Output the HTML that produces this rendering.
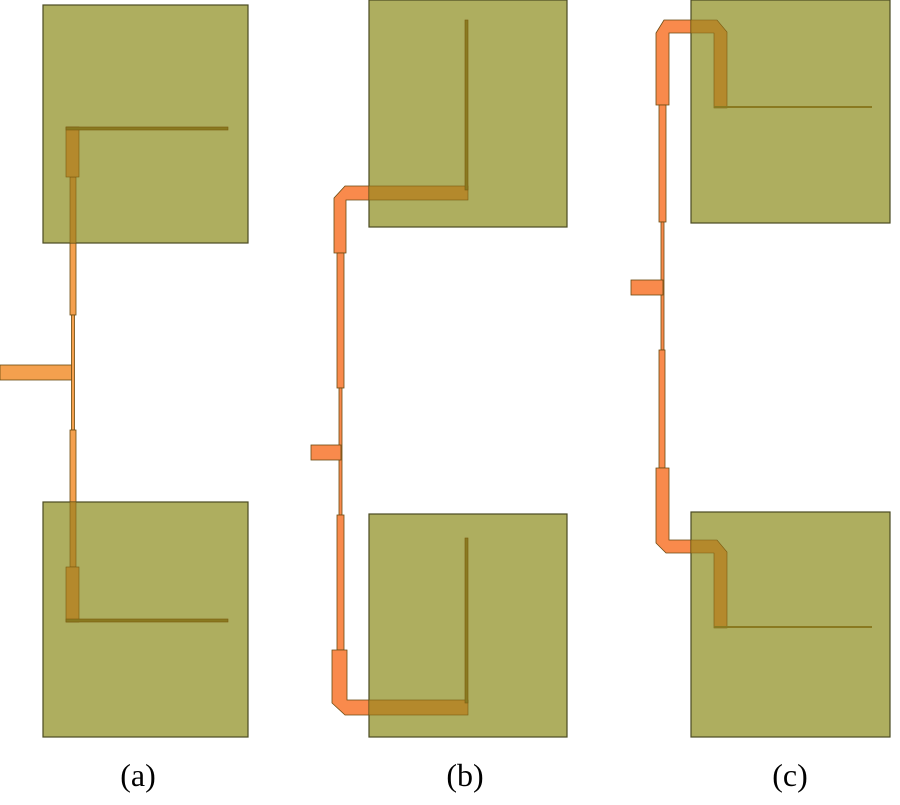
<!DOCTYPE html>
<html><head><meta charset="utf-8"><style>html,body{margin:0;padding:0;background:#fff}</style></head>
<body>
<svg width="900" height="800" viewBox="0 0 900 800" xmlns="http://www.w3.org/2000/svg">
<g stroke="#6a4a10" stroke-width="0.8">
<!-- (a) orange traces -->
<g fill="#f4a04e">
<rect x="0" y="365" width="72" height="15"/>
<rect x="70" y="240" width="6" height="75"/>
<rect x="71.5" y="315" width="3" height="115"/>
<rect x="70" y="430" width="6" height="75"/>
</g>
<!-- (b) -->
<g fill="#f98a4c">
<path d="M334,253 L334,198 L345,186 L372,186 L372,200 L346,200 L346,253 Z"/>
<rect x="337" y="253" width="7" height="135"/>
<rect x="339" y="388" width="3" height="127"/>
<rect x="311" y="445" width="30" height="15"/>
<rect x="337" y="515" width="7" height="135"/>
<path d="M332,650 L347,650 L347,700 L372,700 L372,715 L345,715 L332,703 Z"/>
</g>
<!-- (c) -->
<g fill="#f98a4c">
<path d="M656,105 L656,33 L664,20 L694,20 L694,33 L669,33 L669,105 Z"/>
<rect x="659" y="105" width="7" height="117"/>
<rect x="661" y="222" width="3" height="128"/>
<rect x="631" y="280" width="32" height="15"/>
<rect x="659" y="350" width="6" height="118"/>
<path d="M656,468 L669,468 L669,540 L694,540 L694,553 L666,553 L656,543 Z"/>
</g>
</g>
<!-- boxes -->
<g fill="#aeae5f" stroke="#4a4a22" stroke-width="1.2">
<rect x="43" y="5" width="205" height="238"/>
<rect x="43" y="502" width="205" height="235"/>
<rect x="369" y="0" width="198" height="227"/>
<rect x="369" y="514" width="198" height="223"/>
<rect x="691" y="0" width="199" height="223"/>
<rect x="691" y="512" width="199" height="225"/>
</g>
<!-- overlaps -->
<g fill="#b4892c" stroke="#7a5a10" stroke-width="0.6">
<rect x="70" y="177" width="6" height="66"/>
<rect x="66" y="127" width="13" height="50"/>
<rect x="66" y="127" width="162" height="3" fill="#8a7a20"/>
<rect x="70" y="502" width="6" height="65"/>
<rect x="66" y="567" width="13" height="55"/>
<rect x="66" y="619" width="162" height="3" fill="#8a7a20"/>
<rect x="369" y="186" width="99" height="14"/>
<rect x="465" y="20" width="3" height="170" fill="#8a7a20"/>
<rect x="369" y="700" width="99" height="15"/>
<rect x="465" y="538" width="3" height="165" fill="#8a7a20"/>
<path d="M691,20 L717,20 L727,32 L727,108 L714,108 L714,33 L691,33 Z"/>
<rect x="714" y="106" width="158" height="2" fill="#8a7a20" stroke="none"/>
<path d="M691,540 L717,540 L727,552 L727,628 L714,628 L714,553 L691,553 Z"/>
<rect x="714" y="626" width="158" height="2" fill="#8a7a20" stroke="none"/>
</g>
<g font-family="Liberation Serif, serif" font-size="32" fill="#000" text-anchor="middle">
<text x="138" y="786">(a)</text>
<text x="465" y="786">(b)</text>
<text x="790" y="786">(c)</text>
</g>
</svg>
</body></html>
